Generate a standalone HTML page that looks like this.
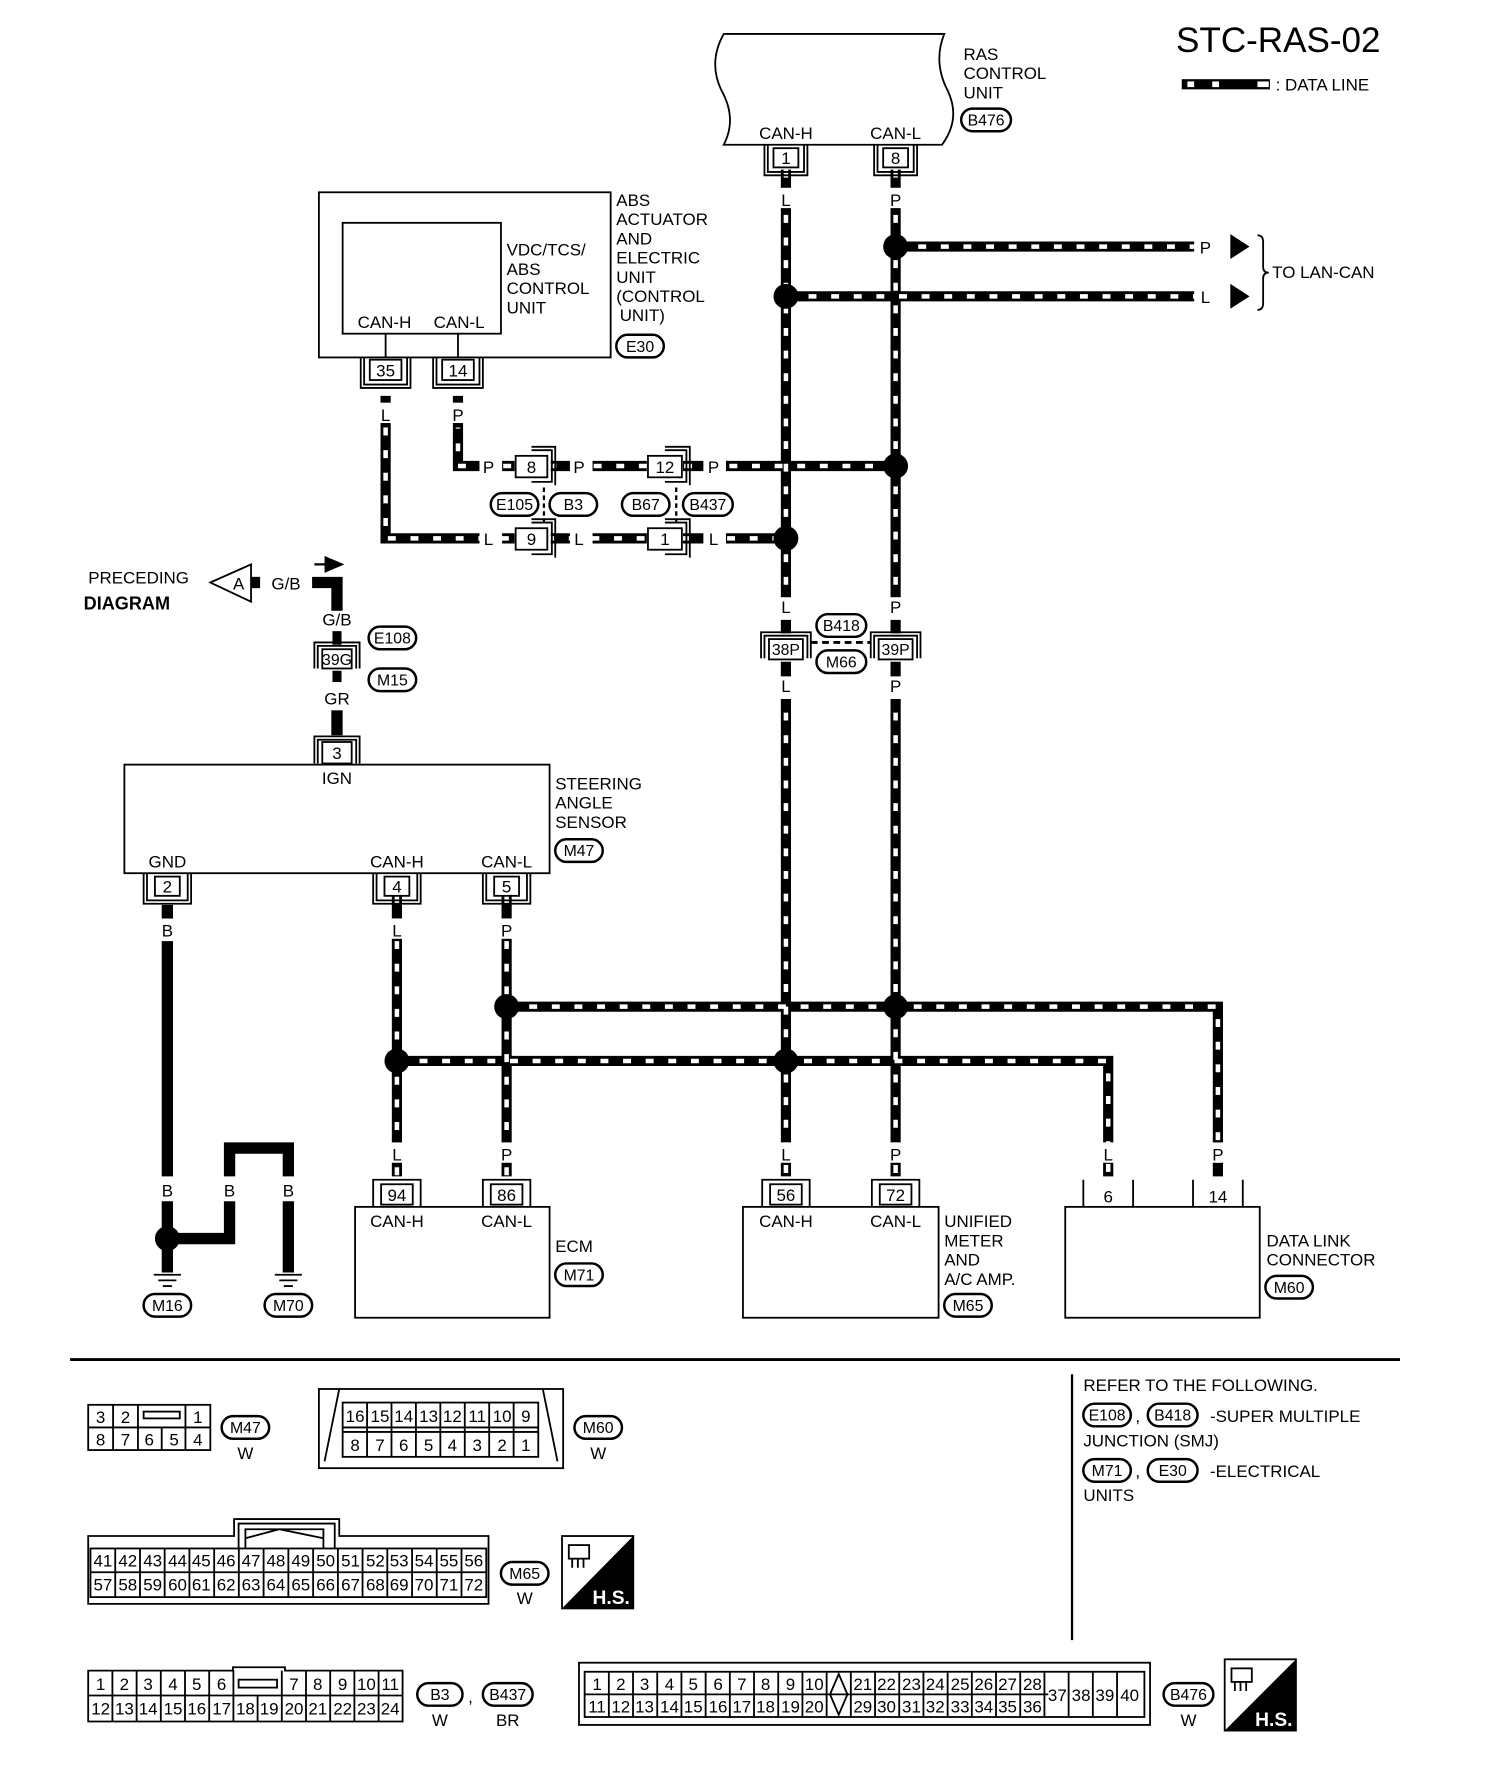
<!DOCTYPE html>
<html><head><meta charset="utf-8"><style>
html,body{margin:0;padding:0;background:#fff;}
svg{display:block;}
text{font-family:"Liberation Sans",sans-serif;font-size:15px;fill:#000;}
.c{text-anchor:middle;}
.b{fill:none;stroke:#000;stroke-width:9;}
.w{fill:none;stroke:#fff;stroke-width:4;stroke-dasharray:7 13;}
.s{fill:none;stroke:#000;stroke-width:10;}
.t{fill:none;stroke:#000;stroke-width:1.6;}
.o{fill:#fff;stroke:#000;stroke-width:1.6;}
rect.o[rx]{stroke-width:2.2;}
.sm{font-size:14px;}
.pn{font-size:15px;}
</style></head><body>
<svg width="1504" height="1786" viewBox="0 0 1330 1579" preserveAspectRatio="none" xmlns="http://www.w3.org/2000/svg">
<rect width="1330" height="1579" fill="#fff"/>
<!-- title -->
<text x="1040" y="46" style="font-size:31px">STC-RAS-02</text>
<rect x="1045" y="70" width="78" height="9" fill="#000"/>
<rect x="1050" y="72" width="6" height="5" fill="#fff"/><rect x="1072" y="72" width="6" height="5" fill="#fff"/><rect x="1112" y="72" width="10" height="5" fill="#fff"/>
<text x="1128" y="80">: DATA LINE</text>

<!-- RAS control unit -->
<path class="t" d="M640,30 L835,30 Q825,55 838,80 Q850,105 833,128 L640,128 Q652,105 638,80 Q626,55 640,30 Z"/>
<text x="695" y="123" class="c">CAN-H</text><text x="792" y="123" class="c">CAN-L</text>
<text x="852" y="53">RAS</text><text x="852" y="70">CONTROL</text><text x="852" y="87">UNIT</text>
<rect class="o" x="850" y="96" width="44" height="20" rx="10"/><text x="872" y="111" class="c sm">B476</text>

<!-- data lines -->
<g>
<path class="b" d="M695,150V1040 M792,150V1040 M792,218H1060 M695,262H1060 M792,412H405V350 M341,350V476H690 M351,792V1040 M448,792V1040 M448,890H1077V1040 M351,938H980V1040"/>
<path class="w" d="M695,150V1040 M792,150V1040 M792,218H1060 M695,262H1060 M792,412H405V378 M341,378V476H690 M351,792V1040 M448,792V1040 M448,890H1077V1040 M351,938H980V1040"/>
</g>
<!-- label gaps -->
<g fill="#fff">
<rect x="686" y="166" width="18" height="18"/><rect x="783" y="166" width="18" height="18"/>
<rect x="332" y="356" width="18" height="18"/><rect x="396" y="356" width="18" height="18"/>
<rect x="424" y="402" width="20" height="20"/><rect x="504" y="402" width="20" height="20"/><rect x="622" y="402" width="20" height="20"/>
<rect x="424" y="466" width="20" height="20"/><rect x="504" y="466" width="20" height="20"/><rect x="622" y="466" width="20" height="20"/>
<rect x="455" y="400" width="32" height="24"/><rect x="572" y="400" width="32" height="24"/>
<rect x="455" y="464" width="32" height="24"/><rect x="572" y="464" width="32" height="24"/>
<rect x="1056" y="208" width="20" height="20"/><rect x="1056" y="252" width="20" height="20"/>
<rect x="683" y="528" width="24" height="90"/><rect x="780" y="528" width="24" height="90"/>
<rect x="342" y="812" width="18" height="18"/><rect x="439" y="812" width="18" height="18"/>
<rect x="342" y="1010" width="18" height="18"/><rect x="439" y="1010" width="18" height="18"/>
<rect x="686" y="1010" width="18" height="18"/><rect x="783" y="1010" width="18" height="18"/>
<rect x="971" y="1010" width="18" height="18"/><rect x="1068" y="1010" width="18" height="18"/>
</g>
<g class="c">
<text x="695" y="182">L</text><text x="792" y="182">P</text>
<text x="341" y="372">L</text><text x="405" y="372">P</text>
<text x="432" y="418">P</text><text x="512" y="418">P</text><text x="631" y="418">P</text>
<text x="432" y="482">L</text><text x="512" y="482">L</text><text x="631" y="482">L</text>
<text x="1066" y="224">P</text><text x="1066" y="268">L</text>
<text x="695" y="542">L</text><text x="792" y="542">P</text>
<text x="695" y="612">L</text><text x="792" y="612">P</text>
<text x="351" y="828">L</text><text x="448" y="828">P</text>
<text x="351" y="1026">L</text><text x="448" y="1026">P</text>
<text x="695" y="1026">L</text><text x="792" y="1026">P</text>
<text x="980" y="1026">L</text><text x="1077" y="1026">P</text>
</g>
<!-- arrows -->
<path d="M1088,207L1105,218L1088,229Z M1088,251L1105,262L1088,273Z" fill="#000"/>
<path class="t" d="M1112,208 q5,0 5,6 v22 q0,5 5,5 q-5,0 -5,5 v22 q0,6 -5,6"/>
<text x="1125" y="246">TO LAN-CAN</text>
<!-- splice dots -->
<g fill="#000">
<circle cx="792" cy="218" r="11"/><circle cx="695" cy="262" r="11"/><circle cx="792" cy="412" r="11"/><circle cx="695" cy="476" r="11"/>
<circle cx="448" cy="890" r="11"/><circle cx="792" cy="890" r="11"/><circle cx="351" cy="938" r="11"/><circle cx="695" cy="938" r="11"/>
<circle cx="148" cy="1095" r="11"/>
</g>
<!-- RAS pins -->
<g>
<rect class="o" x="684" y="131" width="22" height="17"/><text x="695" y="145" class="c pn">1</text>
<path class="t" d="M679,128V152H711V128 M676,128V155H714V128"/>
<rect class="o" x="781" y="131" width="22" height="17"/><text x="792" y="145" class="c pn">8</text>
<path class="t" d="M776,128V152H808V128 M773,128V155H811V128"/>
</g>

<!-- ABS unit -->
<rect class="t" x="282" y="170" width="258" height="146"/>
<rect class="t" x="303" y="197" width="140" height="98"/>
<path class="t" d="M341,295V316 M405,295V316"/>
<text x="340" y="290" class="c">CAN-H</text><text x="406" y="290" class="c">CAN-L</text>
<text x="448" y="226">VDC/TCS/</text><text x="448" y="243">ABS</text><text x="448" y="260">CONTROL</text><text x="448" y="277">UNIT</text>
<text x="545" y="182">ABS</text><text x="545" y="199">ACTUATOR</text><text x="545" y="216">AND</text><text x="545" y="233">ELECTRIC</text><text x="545" y="250">UNIT</text><text x="545" y="267">(CONTROL</text><text x="548" y="284">UNIT)</text>
<rect class="o" x="545" y="296" width="42" height="20" rx="10"/><text x="566" y="311" class="c sm">E30</text>
<rect class="o" x="327" y="318" width="28" height="18"/><text x="341" y="333" class="c pn">35</text>
<path class="t" d="M322,316V340H360V316 M319,316V343H363V316"/>
<rect class="o" x="391" y="318" width="28" height="18"/><text x="405" y="333" class="c pn">14</text>
<path class="t" d="M386,316V340H424V316 M383,316V343H427V316"/>
<!-- inline connectors -->
<g>
<rect class="o" x="456" y="403" width="28" height="19"/><text x="470" y="418" class="c pn">8</text>
<path class="t" d="M470,398H488V426H470 M470,395H491V429"/>
<rect class="o" x="456" y="467" width="28" height="19"/><text x="470" y="482" class="c pn">9</text>
<path class="t" d="M470,462H488V490H470 M470,459H491V493"/>
<rect class="o" x="573" y="403" width="30" height="19"/><text x="588" y="418" class="c pn">12</text>
<path class="t" d="M588,398H607V426H588 M588,395H610V429"/>
<rect class="o" x="573" y="467" width="30" height="19"/><text x="588" y="482" class="c pn">1</text>
<path class="t" d="M588,462H607V490H588 M588,459H610V493"/>
<path d="M481,431V462 M598,431V462" stroke="#000" stroke-width="2" stroke-dasharray="4 3"/>
<rect class="o" x="434" y="436" width="42" height="20" rx="10"/><text x="455" y="451" class="c sm">E105</text>
<rect class="o" x="486" y="436" width="42" height="20" rx="10"/><text x="507" y="451" class="c sm">B3</text>
<rect class="o" x="550" y="436" width="42" height="20" rx="10"/><text x="571" y="451" class="c sm">B67</text>
<rect class="o" x="604" y="436" width="44" height="20" rx="10"/><text x="626" y="451" class="c sm">B437</text>
</g>
<!-- B418/M66 -->
<g>
<path class="b" d="M695,548V560 M792,548V560 M695,585V598 M792,585V598"/>
<rect class="o" x="680" y="565" width="30" height="18"/><text x="695" y="579" class="c sm">38P</text>
<path class="t" d="M673,582V559H717V582 M676,582V562H714V582"/>
<rect class="o" x="777" y="565" width="30" height="18"/><text x="792" y="579" class="c sm">39P</text>
<path class="t" d="M770,582V559H814V582 M773,582V562H811V582"/>
<path d="M717,568H770" stroke="#000" stroke-width="2.5" stroke-dasharray="6 4"/>
<rect class="o" x="722" y="543" width="44" height="20" rx="10"/><text x="744" y="558" class="c sm">B418</text>
<rect class="o" x="722" y="575" width="44" height="20" rx="10"/><text x="744" y="590" class="c sm">M66</text>
</g>

<!-- preceding diagram -->
<text x="78" y="516">PRECEDING</text><text x="74" y="539" style="font-weight:bold;font-size:16px">DIAGRAM</text>
<path class="o" d="M186,515L222,499V532Z"/><text x="211" y="521" class="c">A</text>
<rect x="222" y="510" width="8" height="10" fill="#000"/>
<text x="240" y="521">G/B</text>
<path class="s" d="M276,515H298V540"/>
<path d="M278,499H290 M288,493L302,499L288,505Z" stroke="#000" stroke-width="2" fill="#000"/>
<text x="298" y="553" class="c">G/B</text>
<rect x="294" y="558" width="8" height="12" fill="#000"/>
<rect class="o" x="285" y="574" width="26" height="17"/><text x="298" y="588" class="c sm">39G</text>
<path class="t" d="M278,591V568H318V591 M281,591V571H315V591"/>
<rect x="294" y="593" width="8" height="10" fill="#000"/>
<rect class="o" x="326" y="554" width="42" height="20" rx="10"/><text x="347" y="569" class="c sm">E108</text>
<rect class="o" x="326" y="591" width="42" height="20" rx="10"/><text x="347" y="606" class="c sm">M15</text>
<text x="298" y="623" class="c">GR</text>
<rect x="293" y="628" width="10" height="22" fill="#000"/>
<rect class="o" x="285" y="656" width="26" height="19"/><text x="298" y="671" class="c pn">3</text>
<path class="t" d="M278,675V651H318V675 M281,675V654H315V675"/>

<!-- steering angle sensor -->
<rect class="t" x="110" y="676" width="376" height="96"/>
<text x="298" y="693" class="c">IGN</text>
<text x="148" y="767" class="c">GND</text><text x="351" y="767" class="c">CAN-H</text><text x="448" y="767" class="c">CAN-L</text>
<text x="491" y="698">STEERING</text><text x="491" y="715">ANGLE</text><text x="491" y="732">SENSOR</text>
<rect class="o" x="491" y="742" width="42" height="20" rx="10"/><text x="512" y="757" class="c sm">M47</text>
<g>
<rect class="o" x="137" y="775" width="22" height="17"/><text x="148" y="789" class="c pn">2</text>
<path class="t" d="M130,772V796H166V772 M127,772V799H169V772"/>
<rect class="o" x="340" y="775" width="22" height="17"/><text x="351" y="789" class="c pn">4</text>
<path class="t" d="M333,772V796H369V772 M330,772V799H372V772"/>
<rect class="o" x="437" y="775" width="22" height="17"/><text x="448" y="789" class="c pn">5</text>
<path class="t" d="M430,772V796H466V772 M427,772V799H469V772"/>
</g>
<!-- B ground -->
<path class="s" d="M148,800V812 M148,832V1040 M148,1062V1095 M148,1095H203V1062 M203,1040V1015H255V1040 M255,1062V1125"/>
<text x="148" y="828" class="c">B</text><text x="148" y="1058" class="c">B</text><text x="203" y="1058" class="c">B</text><text x="255" y="1058" class="c">B</text>
<path class="s" d="M148,1095V1125"/>
<path d="M136,1127H160 M140,1132H156 M144,1137H152 M243,1127H267 M247,1132H263 M251,1137H259" stroke="#000" stroke-width="1.6"/>
<rect class="o" x="127" y="1144" width="42" height="20" rx="10"/><text x="148" y="1159" class="c sm">M16</text>
<rect class="o" x="234" y="1144" width="42" height="20" rx="10"/><text x="255" y="1159" class="c sm">M70</text>

<!-- bottom units -->
<g>
<rect class="t" x="314" y="1067" width="172" height="98"/>
<text x="351" y="1085" class="c">CAN-H</text><text x="448" y="1085" class="c">CAN-L</text>
<text x="491" y="1107">ECM</text>
<rect class="o" x="491" y="1117" width="42" height="20" rx="10"/><text x="512" y="1132" class="c sm">M71</text>
<rect class="o" x="337" y="1047" width="28" height="18"/><text x="351" y="1062" class="c pn">94</text>
<path class="t" d="M330,1067V1043H372V1067"/>
<rect class="o" x="434" y="1047" width="28" height="18"/><text x="448" y="1062" class="c pn">86</text>
<path class="t" d="M427,1067V1043H469V1067"/>

<rect class="t" x="657" y="1067" width="173" height="98"/>
<text x="695" y="1085" class="c">CAN-H</text><text x="792" y="1085" class="c">CAN-L</text>
<text x="835" y="1085">UNIFIED</text><text x="835" y="1102">METER</text><text x="835" y="1119">AND</text><text x="835" y="1136">A/C AMP.</text>
<rect class="o" x="835" y="1144" width="42" height="20" rx="10"/><text x="856" y="1159" class="c sm">M65</text>
<rect class="o" x="681" y="1047" width="28" height="18"/><text x="695" y="1062" class="c pn">56</text>
<path class="t" d="M674,1067V1043H716V1067"/>
<rect class="o" x="778" y="1047" width="28" height="18"/><text x="792" y="1062" class="c pn">72</text>
<path class="t" d="M771,1067V1043H813V1067"/>

<rect class="t" x="942" y="1067" width="172" height="98"/>
<text x="980" y="1063" class="c pn">6</text><text x="1077" y="1063" class="c pn">14</text>
<path class="t" d="M958,1067V1043 M1002,1067V1043 M1055,1067V1043 M1099,1067V1043"/>
<text x="1120" y="1102">DATA LINK</text><text x="1120" y="1119">CONNECTOR</text>
<rect class="o" x="1119" y="1128" width="42" height="20" rx="10"/><text x="1140" y="1143" class="c sm">M60</text>
</g>

<!-- separator -->
<path d="M62,1202H1238" stroke="#000" stroke-width="2.5"/>
<path d="M948,1215V1450" stroke="#000" stroke-width="2"/>
<text x="958" y="1230">REFER TO THE FOLLOWING.</text>
<rect class="o" x="958" y="1241" width="42" height="20" rx="10"/><text x="979" y="1256" class="c sm">E108</text>
<text x="1004" y="1257">,</text>
<rect class="o" x="1015" y="1241" width="44" height="20" rx="10"/><text x="1037" y="1256" class="c sm">B418</text>
<text x="1070" y="1257">-SUPER MULTIPLE</text>
<text x="958" y="1279">JUNCTION (SMJ)</text>
<rect class="o" x="958" y="1290" width="42" height="20" rx="10"/><text x="979" y="1305" class="c sm">M71</text>
<text x="1004" y="1306">,</text>
<rect class="o" x="1015" y="1290" width="44" height="20" rx="10"/><text x="1037" y="1305" class="c sm">E30</text>
<text x="1070" y="1306">-ELECTRICAL</text>
<text x="958" y="1327">UNITS</text>

<!-- M47 connector -->
<g class="pn">
<rect class="t" x="78" y="1242" width="108" height="40"/>
<path class="t" d="M78,1262H186 M100,1242V1282 M122,1242V1282 M164,1242V1282 M143,1262V1282"/>
<rect class="t" x="127" y="1248" width="32" height="6"/>
<text x="89" y="1258" class="c">3</text><text x="111" y="1258" class="c">2</text><text x="175" y="1258" class="c">1</text>
<text x="89" y="1278" class="c">8</text><text x="111" y="1278" class="c">7</text><text x="132" y="1278" class="c">6</text><text x="154" y="1278" class="c">5</text><text x="175" y="1278" class="c">4</text>
</g>
<rect class="o" x="196" y="1252" width="42" height="20" rx="10"/><text x="217" y="1267" class="c sm">M47</text>
<text x="217" y="1290" class="c">W</text>

<!-- M60 connector -->
<g class="sm">
<rect class="t" x="282" y="1228" width="216" height="70"/>
<path class="t" d="M300,1228L287,1292 M480,1228L493,1292"/>
<rect class="t" x="303" y="1240" width="173" height="48"/>
<path class="t" d="M303,1262H476 M303,1266H476"/>
<path class="t" d="M324.6,1240V1288 M346.2,1240V1288 M367.8,1240V1288 M389.4,1240V1288 M411,1240V1288 M432.6,1240V1288 M454.2,1240V1288"/>
<text x="314" y="1257" class="c">16</text><text x="336" y="1257" class="c">15</text><text x="357" y="1257" class="c">14</text><text x="379" y="1257" class="c">13</text><text x="400" y="1257" class="c">12</text><text x="422" y="1257" class="c">11</text><text x="444" y="1257" class="c">10</text><text x="465" y="1257" class="c">9</text>
<text x="314" y="1283" class="c">8</text><text x="336" y="1283" class="c">7</text><text x="357" y="1283" class="c">6</text><text x="379" y="1283" class="c">5</text><text x="400" y="1283" class="c">4</text><text x="422" y="1283" class="c">3</text><text x="444" y="1283" class="c">2</text><text x="465" y="1283" class="c">1</text>
</g>
<rect class="o" x="508" y="1252" width="42" height="20" rx="10"/><text x="529" y="1267" class="c sm">M60</text>
<text x="529" y="1290" class="c">W</text>

<!-- M65 connector -->
<g class="sm">
<path class="t" d="M78,1358H207V1343H300V1358H432V1418H78Z"/>
<path class="t" d="M211,1369V1347H296V1369 M217,1369V1352H286V1369 M217,1360L247,1352L286,1360"/>
<rect class="t" x="80" y="1369" width="350" height="43"/>
<path class="t" d="M80,1390H430"/>
<path class="t" d="M101.9,1369V1412 M123.8,1369V1412 M145.6,1369V1412 M167.5,1369V1412 M189.4,1369V1412 M211.2,1369V1412 M233.1,1369V1412 M255,1369V1412 M276.9,1369V1412 M298.8,1369V1412 M320.6,1369V1412 M342.5,1369V1412 M364.4,1369V1412 M386.2,1369V1412 M408.1,1369V1412"/>
<text x="91" y="1385" class="c">41</text><text x="113" y="1385" class="c">42</text><text x="135" y="1385" class="c">43</text><text x="157" y="1385" class="c">44</text><text x="178" y="1385" class="c">45</text><text x="200" y="1385" class="c">46</text><text x="222" y="1385" class="c">47</text><text x="244" y="1385" class="c">48</text><text x="266" y="1385" class="c">49</text><text x="288" y="1385" class="c">50</text><text x="310" y="1385" class="c">51</text><text x="332" y="1385" class="c">52</text><text x="353" y="1385" class="c">53</text><text x="375" y="1385" class="c">54</text><text x="397" y="1385" class="c">55</text><text x="419" y="1385" class="c">56</text>
<text x="91" y="1406" class="c">57</text><text x="113" y="1406" class="c">58</text><text x="135" y="1406" class="c">59</text><text x="157" y="1406" class="c">60</text><text x="178" y="1406" class="c">61</text><text x="200" y="1406" class="c">62</text><text x="222" y="1406" class="c">63</text><text x="244" y="1406" class="c">64</text><text x="266" y="1406" class="c">65</text><text x="288" y="1406" class="c">66</text><text x="310" y="1406" class="c">67</text><text x="332" y="1406" class="c">68</text><text x="353" y="1406" class="c">69</text><text x="375" y="1406" class="c">70</text><text x="397" y="1406" class="c">71</text><text x="419" y="1406" class="c">72</text>
</g>
<rect class="o" x="443" y="1381" width="42" height="20" rx="10"/><text x="464" y="1396" class="c sm">M65</text>
<text x="464" y="1418" class="c">W</text>
<!-- HS icon 1 -->
<g>
<rect class="t" x="497" y="1358" width="63" height="64"/>
<path d="M560,1358V1422H497Z" fill="#000"/>
<rect class="t" x="503" y="1366" width="18" height="12"/>
<path class="t" d="M506,1378v8 M511,1378v8 M516,1378v8"/>
<text x="557" y="1418" style="fill:#fff;font-weight:bold;font-size:17px;text-anchor:end">H.S.</text>
</g>

<!-- B3 connector -->
<g class="sm">
<path class="t" d="M78,1477H206V1474H252V1477H356V1522H78Z"/>
<path class="t" d="M78,1499H356"/>
<path class="t" d="M99.4,1477V1522 M120.8,1477V1522 M142.2,1477V1522 M163.6,1477V1522 M185,1477V1522 M206.4,1477V1522 M249.2,1477V1522 M270.6,1477V1522 M292,1477V1522 M313.4,1477V1522 M334.8,1477V1522 M227.8,1499V1522"/>
<rect class="t" x="211" y="1485" width="34" height="7"/>
<text x="89" y="1494" class="c">1</text><text x="110" y="1494" class="c">2</text><text x="131" y="1494" class="c">3</text><text x="153" y="1494" class="c">4</text><text x="174" y="1494" class="c">5</text><text x="196" y="1494" class="c">6</text><text x="260" y="1494" class="c">7</text><text x="281" y="1494" class="c">8</text><text x="303" y="1494" class="c">9</text><text x="324" y="1494" class="c">10</text><text x="345" y="1494" class="c">11</text>
<text x="89" y="1516" class="c">12</text><text x="110" y="1516" class="c">13</text><text x="131" y="1516" class="c">14</text><text x="153" y="1516" class="c">15</text><text x="174" y="1516" class="c">16</text><text x="196" y="1516" class="c">17</text><text x="217" y="1516" class="c">18</text><text x="238" y="1516" class="c">19</text><text x="260" y="1516" class="c">20</text><text x="281" y="1516" class="c">21</text><text x="303" y="1516" class="c">22</text><text x="324" y="1516" class="c">23</text><text x="345" y="1516" class="c">24</text>
</g>
<rect class="o" x="369" y="1488" width="40" height="20" rx="10"/><text x="389" y="1503" class="c sm">B3</text>
<text x="414" y="1505">,</text>
<rect class="o" x="427" y="1488" width="44" height="20" rx="10"/><text x="449" y="1503" class="c sm">B437</text>
<text x="389" y="1526" class="c">W</text><text x="449" y="1526" class="c">BR</text>

<!-- B476 connector -->
<g class="sm">
<rect class="t" x="512" y="1470" width="505" height="55"/>
<rect class="t" x="517" y="1478" width="495" height="40"/>
<path class="t" d="M517,1498H927"/>
<path class="t" d="M538.4,1478V1518 M559.8,1478V1518 M581.2,1478V1518 M602.6,1478V1518 M624,1478V1518 M645.4,1478V1518 M666.8,1478V1518 M688.2,1478V1518 M709.6,1478V1518 M731,1478V1518 M752.4,1478V1518 M773.8,1478V1518 M795.2,1478V1518 M816.6,1478V1518 M838,1478V1518 M859.4,1478V1518 M880.8,1478V1518 M902.2,1478V1518 M923.6,1478V1518 M945,1478V1518 M966.4,1478V1518 M987.8,1478V1518"/>
<path class="t" d="M741.7,1480L734,1498L741.7,1516L749.4,1498Z"/>
<text x="528" y="1494" class="c">1</text><text x="549" y="1494" class="c">2</text><text x="570" y="1494" class="c">3</text><text x="592" y="1494" class="c">4</text><text x="613" y="1494" class="c">5</text><text x="635" y="1494" class="c">6</text><text x="656" y="1494" class="c">7</text><text x="677" y="1494" class="c">8</text><text x="699" y="1494" class="c">9</text><text x="720" y="1494" class="c">10</text>
<text x="763" y="1494" class="c">21</text><text x="784" y="1494" class="c">22</text><text x="806" y="1494" class="c">23</text><text x="827" y="1494" class="c">24</text><text x="849" y="1494" class="c">25</text><text x="870" y="1494" class="c">26</text><text x="891" y="1494" class="c">27</text><text x="913" y="1494" class="c">28</text>
<text x="528" y="1514" class="c">11</text><text x="549" y="1514" class="c">12</text><text x="570" y="1514" class="c">13</text><text x="592" y="1514" class="c">14</text><text x="613" y="1514" class="c">15</text><text x="635" y="1514" class="c">16</text><text x="656" y="1514" class="c">17</text><text x="677" y="1514" class="c">18</text><text x="699" y="1514" class="c">19</text><text x="720" y="1514" class="c">20</text>
<text x="763" y="1514" class="c">29</text><text x="784" y="1514" class="c">30</text><text x="806" y="1514" class="c">31</text><text x="827" y="1514" class="c">32</text><text x="849" y="1514" class="c">33</text><text x="870" y="1514" class="c">34</text><text x="891" y="1514" class="c">35</text><text x="913" y="1514" class="c">36</text>
<text x="935" y="1504" class="c">37</text><text x="956" y="1504" class="c">38</text><text x="977" y="1504" class="c">39</text><text x="999" y="1504" class="c">40</text>
</g>
<rect class="o" x="1029" y="1488" width="44" height="20" rx="10"/><text x="1051" y="1503" class="c sm">B476</text>
<text x="1051" y="1526" class="c">W</text>
<g>
<rect class="t" x="1083" y="1467" width="63" height="63"/>
<path d="M1146,1467V1530H1083Z" fill="#000"/>
<rect class="t" x="1089" y="1475" width="18" height="12"/>
<path class="t" d="M1092,1487v8 M1097,1487v8 M1102,1487v8"/>
<text x="1143" y="1526" style="fill:#fff;font-weight:bold;font-size:17px;text-anchor:end">H.S.</text>
</g>
</svg>
</body></html>
